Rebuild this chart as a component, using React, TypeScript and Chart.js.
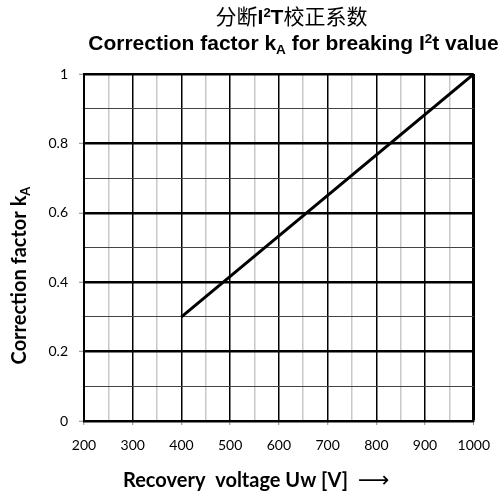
import React, { useEffect, useRef } from 'react';
import { Chart, registerables } from 'chart.js';

Chart.register(...registerables);

// ---- data ----
const voltages = [400, 1000];
const factors = [0.3, 1.0];

const xTickLabels = ['200', '300', '400', '500', '600', '700', '800', '900', '1000'];
const yTickLabels = ['0', '0.2', '0.4', '0.6', '0.8', '1'];

const titleCn = ['分断', 'I', '2', 'T', '校正系数'];
const titleEn = ['Correction factor k', 'A', ' for breaking I', '2', 't value'];
const yTitle = ['Correction factor k', 'A'];
const xTitle = 'Recovery  voltage Uw [V]';
const xArrow = '⟶';

const X_MIN = 200;
const X_MAX = 1000;
const Y_MIN = 0;
const Y_MAX = 1;

type Seg = { text: string; font: string; dy: number };

function drawRich(ctx: CanvasRenderingContext2D, segs: Seg[], cx: number, baseline: number, align: 'center' | 'left' = 'center') {
  let total = 0;
  const widths = segs.map((s) => {
    ctx.font = s.font;
    const w = ctx.measureText(s.text).width;
    total += w;
    return w;
  });
  let x = align === 'center' ? cx - total / 2 : cx;
  ctx.textAlign = 'left';
  ctx.textBaseline = 'alphabetic';
  segs.forEach((s, i) => {
    ctx.font = s.font;
    ctx.fillText(s.text, x, baseline + s.dy);
    x += widths[i];
  });
  return total;
}

const cjk = '"Noto Sans CJK SC", sans-serif';
const arialB = 'bold 21px "Liberation Sans", Arial, sans-serif';
const arialBsmall = 'bold 13.5px "Liberation Sans", Arial, sans-serif';

const titlesPlugin = {
  id: 'richTitles',
  afterDraw(chart: any) {
    const ctx: CanvasRenderingContext2D = chart.ctx;
    ctx.save();
    ctx.fillStyle = '#000';
    // line 1
    drawRich(
      ctx,
      [
        { text: titleCn[0], font: `21px ${cjk}`, dy: 0 },
        { text: titleCn[1], font: 'bold 21px "Liberation Sans", Arial, sans-serif', dy: 0 },
        { text: titleCn[2], font: 'bold 13px "Liberation Sans", Arial, sans-serif', dy: -7 },
        { text: titleCn[3], font: 'bold 21px "Liberation Sans", Arial, sans-serif', dy: 0 },
        { text: titleCn[4], font: `21px ${cjk}`, dy: 0 },
      ],
      291.5,
      24
    );
    // line 2
    drawRich(
      ctx,
      [
        { text: titleEn[0], font: arialB, dy: 0 },
        { text: titleEn[1], font: arialBsmall, dy: 4 },
        { text: titleEn[2], font: arialB, dy: 0 },
        { text: titleEn[3], font: arialBsmall, dy: -7 },
        { text: titleEn[4], font: arialB, dy: 0 },
      ],
      293.5,
      50
    );
    // y title
    ctx.save();
    ctx.translate(26, 275.5);
    ctx.rotate(-Math.PI / 2);
    drawRich(
      ctx,
      [
        { text: yTitle[0], font: 'bold 20px Lato, sans-serif', dy: 0 },
        { text: yTitle[1], font: 'bold 13px Lato, sans-serif', dy: 4 },
      ],
      0,
      0
    );
    ctx.restore();
    // x title
    const w = drawRich(ctx, [{ text: xTitle, font: 'bold 20px Lato, sans-serif', dy: 0 }], 123, 487, 'left');
    drawRich(ctx, [{ text: xArrow, font: '22px "DejaVu Sans", sans-serif', dy: 0 }], 123 + w + 10, 487, 'left');
    ctx.restore();
  },
};

function isMajorX(v: number) {
  return xTickLabels.includes(String(Math.round(v)));
}
function yIndex(v: number) {
  return Math.round(v * 10);
}

export default function App() {
  const ref = useRef<HTMLCanvasElement>(null);
  useEffect(() => {
    if (!ref.current) return;
    const chart = new Chart(ref.current, {
      type: 'line',
      data: {
        datasets: [
          {
            data: voltages.map((v, i) => ({ x: v, y: factors[i] })),
            borderColor: '#000',
            borderWidth: 3,
            pointRadius: 0,
            fill: false,
            tension: 0,
          },
        ],
      },
      options: {
        animation: false,
        responsive: false,
        devicePixelRatio: 1,
        layout: { padding: { top: 74, right: 26, left: 0, bottom: 0 } },
        plugins: { legend: { display: false }, title: { display: false }, tooltip: { enabled: false } },
        scales: {
          x: {
            type: 'linear',
            min: X_MIN,
            max: X_MAX,
            ticks: {
              stepSize: 50,
              autoSkip: false,
              maxRotation: 0,
              minRotation: 0,
              padding: 12,
              color: '#000',
              font: { family: 'Lato', size: 14 },
              callback: (v: any) => (isMajorX(Number(v)) ? xTickLabels[xTickLabels.indexOf(String(Math.round(Number(v))))] : ''),
            },
            grid: {
              color: (c: any) => (c.tick && isMajorX(c.tick.value) ? '#000' : '#c8c8c8'),
              lineWidth: (c: any) => (c.tick && c.tick.value === X_MAX ? 3 : 1.5),
              tickLength: 4,
              tickColor: (c: any) => (c.tick && isMajorX(c.tick.value) ? '#888' : 'rgba(0,0,0,0)'),
              tickWidth: 1,
            },
            border: { color: '#000', width: 2 },
            afterFit: (s: any) => {
              s.height = 77;
            },
          },
          y: {
            type: 'linear',
            min: Y_MIN,
            max: Y_MAX,
            ticks: {
              stepSize: 0.1,
              autoSkip: false,
              padding: 11,
              color: '#000',
              font: { family: 'Lato', size: 14 },
              callback: (v: any) => {
                const k = yIndex(Number(v));
                return k % 2 === 0 ? yTickLabels[k / 2] : '';
              },
            },
            grid: {
              color: (c: any) => (c.tick && yIndex(c.tick.value) % 2 === 0 ? '#000' : '#444'),
              lineWidth: (c: any) => (c.tick && yIndex(c.tick.value) % 2 === 0 ? 2.5 : 1),
              tickLength: 5,
              tickColor: (c: any) => (c.tick && yIndex(c.tick.value) % 2 === 0 ? '#888' : 'rgba(0,0,0,0)'),
              tickWidth: 1,
            },
            border: { color: '#000', width: 2 },
            afterFit: (s: any) => {
              s.width = 84;
            },
          },
        },
      },
      plugins: [titlesPlugin],
    } as any);
    return () => chart.destroy();
  }, []);
  return (
    <div style={{ position: 'fixed', left: 0, top: 0, width: 502, height: 498, background: '#fff' }}>
      <canvas ref={ref} width={502} height={498} style={{ display: 'block' }} />
    </div>
  );
}
